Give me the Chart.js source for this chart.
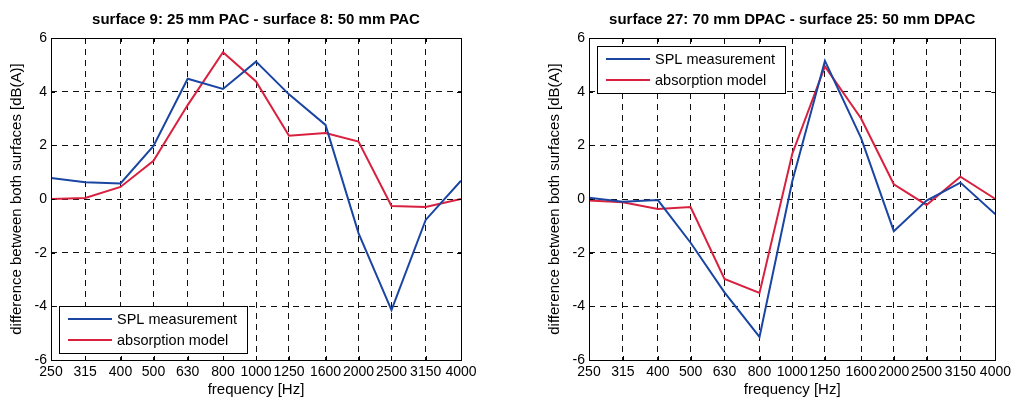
<!DOCTYPE html>
<html><head><meta charset="utf-8">
<script src="https://cdn.jsdelivr.net/npm/chart.js@4.4.1/dist/chart.umd.min.js"></script>
<style>
html,body{margin:0;padding:0;background:#fff;}
body{width:1015px;height:398px;position:relative;overflow:hidden;}
.box{position:absolute;top:0;height:398px;}
#c1wrap{left:0;width:507px;}
#c2wrap{left:538px;width:477px;}
</style></head><body>
<div class="box" id="c1wrap"><canvas id="c1"></canvas></div>
<div class="box" id="c2wrap"><canvas id="c2"></canvas></div>
<script>
const frequencies = [250,315,400,500,630,800,1000,1250,1600,2000,2500,3150,4000];
const yTicks = [-6,-4,-2,0,2,4,6];
const seriesNames = ['SPL measurement','absorption model'];
const leftTitle = 'surface 9: 25 mm PAC - surface 8: 50 mm PAC';
const rightTitle = 'surface 27: 70 mm DPAC - surface 25: 50 mm DPAC';
const leftSPL   = [0.78,0.62,0.58,1.98,4.48,4.10,5.12,3.90,2.76,-1.27,-4.14,-0.78,0.68];
const leftModel = [0.00,0.04,0.45,1.42,3.50,5.47,4.38,2.36,2.46,2.14,-0.26,-0.30,0.00];
const rightSPL   = [0.05,-0.10,-0.04,-1.63,-3.48,-5.14,0.65,5.15,2.27,-1.20,-0.06,0.61,-0.57];
const rightModel = [-0.06,-0.12,-0.37,-0.30,-2.98,-3.50,1.68,4.94,3.00,0.55,-0.22,0.83,0.00];

const BLUE = '#1a45a3';
const RED = '#d8203f';

Chart.defaults.font.family = 'Arial, "Liberation Sans", sans-serif';
Chart.defaults.color = '#000';

const frameAndLegend = {
  id: 'frameAndLegend',
  afterDatasetsDraw(chart, args, opts) {
    const {ctx, chartArea: a, scales: {x, y}} = chart;
    ctx.save();
    ctx.setLineDash([]);
    ctx.strokeStyle = '#000';
    ctx.lineWidth = 1;
    ctx.beginPath();
    x.ticks.forEach(t => {
      const px = Math.round(x.getPixelForValue(t.value)) + 0.5;
      ctx.moveTo(px, a.bottom); ctx.lineTo(px, a.bottom - 4);
      ctx.moveTo(px, a.top); ctx.lineTo(px, a.top + 4);
    });
    y.ticks.forEach(t => {
      const py = Math.round(y.getPixelForValue(t.value)) + 0.5;
      ctx.moveTo(a.left, py); ctx.lineTo(a.left + 4, py);
      ctx.moveTo(a.right, py); ctx.lineTo(a.right - 4, py);
    });
    ctx.stroke();
    ctx.strokeRect(Math.round(a.left) + 0.5, Math.round(a.top) + 0.5,
                   Math.round(a.right - a.left), Math.round(a.bottom - a.top));
    // legend
    const w = 188, h = 47;
    const lx = Math.round(a.left + 8);
    const ly = Math.round(opts.pos === 'top' ? a.top + 8 : a.bottom - 7 - h);
    ctx.fillStyle = '#fff';
    ctx.fillRect(lx, ly, w, h);
    ctx.strokeStyle = '#000';
    ctx.lineWidth = 1;
    ctx.strokeRect(lx + 0.5, ly + 0.5, w, h);
    ctx.font = '14.5px Arial, "Liberation Sans", sans-serif';
    ctx.textBaseline = 'middle';
    ctx.textAlign = 'left';
    chart.data.datasets.forEach((ds, i) => {
      const cy = ly + 13 + i * 21;
      ctx.strokeStyle = ds.borderColor;
      ctx.lineWidth = 2;
      ctx.beginPath();
      ctx.moveTo(lx + 9, cy); ctx.lineTo(lx + 53, cy);
      ctx.stroke();
      ctx.fillStyle = '#000';
      ctx.fillText(ds.label, lx + 58, cy + 1);
    });
    ctx.restore();
  }
};

function pts(vals) { return frequencies.map((f, i) => ({x: f, y: vals[i]})); }

function makeChart(id, title, spl, model, rightPad, legendPos) {
  const edge = (c, n) => (c.index === 0 || c.index === n - 1) ? 'rgba(0,0,0,0)' : '#111';
  return new Chart(document.getElementById(id), {
    type: 'line',
    data: {
      datasets: [
        {label: seriesNames[0], data: pts(spl), borderColor: BLUE, borderWidth: 2, pointRadius: 0, tension: 0, fill: false},
        {label: seriesNames[1], data: pts(model), borderColor: RED, borderWidth: 2, pointRadius: 0, tension: 0, fill: false}
      ]
    },
    options: {
      responsive: true,
      maintainAspectRatio: false,
      animation: false,
      devicePixelRatio: 1,
      layout: {padding: {left: 0, right: rightPad, top: 0, bottom: 0}},
      plugins: {
        legend: {display: false},
        tooltip: {enabled: false},
        title: {
          display: true, text: title, fullSize: false,
          font: {size: 15, weight: 'bold'}, color: '#000',
          padding: {top: 11, bottom: 9}
        },
        frameAndLegend: {pos: legendPos}
      },
      scales: {
        x: {
          type: 'logarithmic', min: 250, max: 4000,
          afterBuildTicks: s => { s.ticks = frequencies.map(v => ({value: v})); },
          afterFit: s => { s.height = 38; },
          ticks: {autoSkip: false, maxRotation: 0, minRotation: 0, padding: 4,
                  font: {size: 14}, color: '#000',
                  callback: v => String(v)},
          grid: {color: c => edge(c, frequencies.length), lineWidth: 1, drawTicks: false},
          border: {display: false, dash: [6, 5]},
          title: {display: true, text: 'frequency [Hz]', font: {size: 15}, color: '#000',
                  padding: {top: 0, bottom: -1}}
        },
        y: {
          type: 'linear', min: -6, max: 6,
          afterBuildTicks: s => { s.ticks = yTicks.map(v => ({value: v})); },
          afterFit: s => { s.width = 51; },
          ticks: {padding: 4, font: {size: 14}, color: '#000', callback: v => String(v)},
          grid: {color: c => edge(c, yTicks.length), lineWidth: 1, drawTicks: false},
          border: {display: false, dash: [6, 5]},
          title: {display: true, text: 'difference between both surfaces [dB(A)]',
                  font: {size: 15}, color: '#000', padding: {top: 7.5, bottom: 0}}
        }
      }
    },
    plugins: [frameAndLegend]
  });
}

makeChart('c1', leftTitle, leftSPL, leftModel, 46, 'bottom');
makeChart('c2', rightTitle, rightSPL, rightModel, 16, 'top');
</script>
</body></html>
